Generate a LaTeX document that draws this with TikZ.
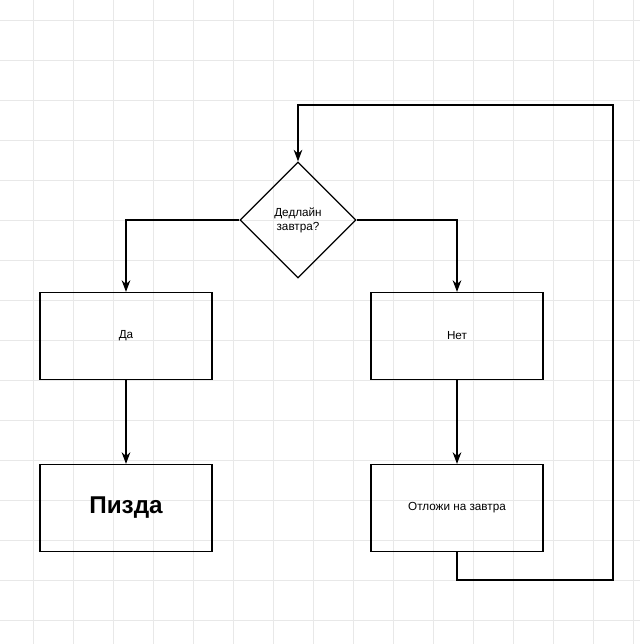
\documentclass[tikz,border=0pt]{standalone}
\usepackage{fontspec}
\setmainfont{Liberation Sans}
\usetikzlibrary{arrows.meta,shapes.geometric}

\begin{document}
\begin{tikzpicture}[>={Stealth[length=3.5mm,width=2.6mm]}, x=0.03cm, y=-0.03cm,
    box/.style={draw, line width=1pt, minimum width=5.16cm, minimum height=2.61cm},
    flow/.style={->, line width=1pt}]
    % background grid
    \useasboundingbox (0,0) rectangle (640,644);
    \fill[white] (0,0) rectangle (640,644);
    \foreach \x in {33,73,...,633} \draw[gray!18, line width=0.6pt] (\x,0) -- (\x,644);
    \foreach \y in {20,60,...,640} \draw[gray!18, line width=0.6pt] (0,\y) -- (640,\y);

    % Decision
    \node (ask) at (298,220) [diamond, draw, line width=1pt, minimum width=3.48cm, minimum height=3.48cm, inner sep=0pt, align=center] {Дедлайн\\завтра?};

    % Branches
    \node (yes) at (126,336) [box] {Да};
    \node (no) at (457,336) [box] {Нет};
    \node (end) at (126,508) [box, font=\huge\bfseries] {Пизда};
    \node (delay) at (457,508) [box] {Отложи на завтра};

    \coordinate (loop1) at (457,580);
    \coordinate (loop2) at (613,580);
    \coordinate (loop3) at (613,105);
    \coordinate (loop4) at (298,105);

    \draw[flow] (ask.west) -| (yes.north);
    \draw[flow] (ask.east) -| (no.north);
    \draw[flow] (yes) -- (end);
    \draw[flow] (no) -- (delay);
    \draw[flow] (delay.south) -- (loop1) -- (loop2) -- (loop3) -- (loop4) -- (ask.north);
\end{tikzpicture}
\end{document}
